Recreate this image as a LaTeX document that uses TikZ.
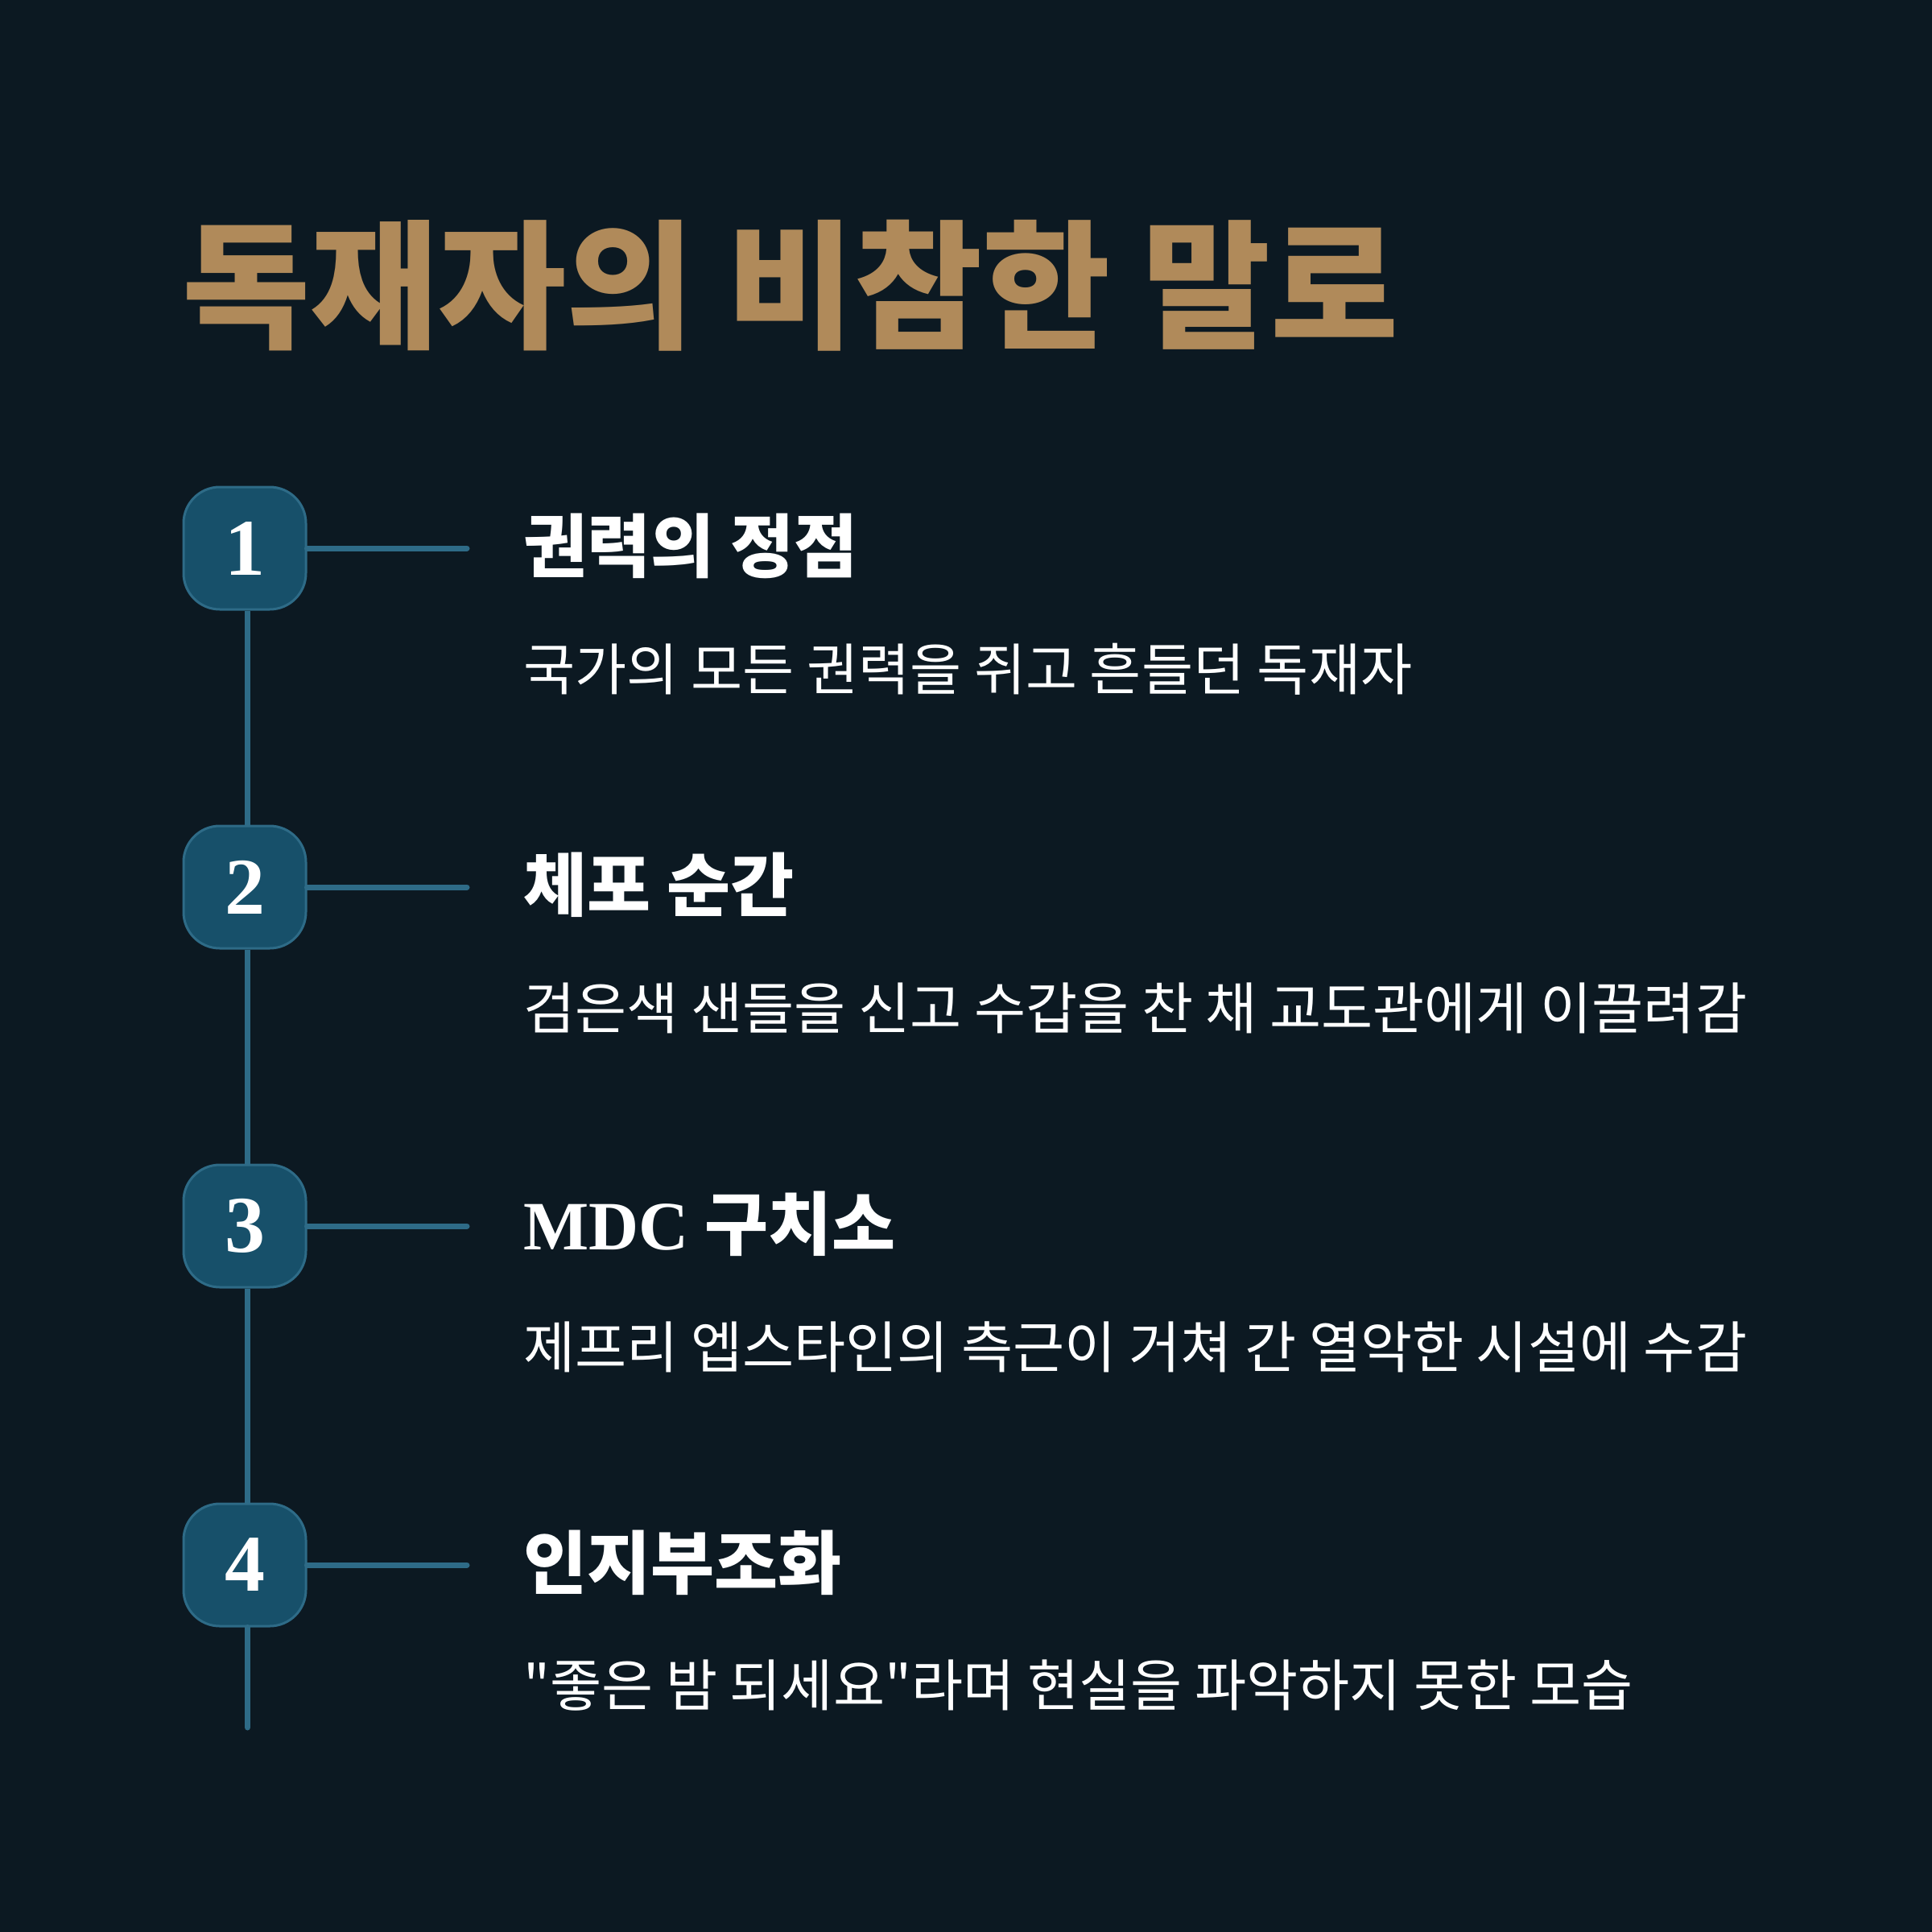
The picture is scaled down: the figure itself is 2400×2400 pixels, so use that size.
\documentclass[tikz,border=0pt]{standalone}
\usepackage{fontspec}
\newfontfamily\kr{Noto Sans CJK KR}
\newfontfamily\numfont{Liberation Serif}
\definecolor{bgc}{HTML}{0C1922}
\definecolor{gold}{HTML}{B08A5A}
\definecolor{boxfill}{HTML}{17506A}
\definecolor{boxline}{HTML}{2E6B87}
\tikzset{
  numbox/.style={draw=boxline, line width=3pt, fill=boxfill, rounded corners=45pt,
    minimum width=152pt, minimum height=152pt, inner sep=0pt, text=white,
    font=\numfont\bfseries\fontsize{100}{100}\selectfont},
  tl/.style={draw=boxline, line width=7pt},
  itemtitle/.style={anchor=west, inner sep=0pt, text=white, font=\kr\bfseries\fontsize{86}{86}\selectfont},
  itemdesc/.style={anchor=west, inner sep=0pt, text=white, font=\kr\fontsize{69.7}{70}\selectfont},
  maintitle/.style={anchor=west, inner sep=0pt, text=gold, font=\kr\bfseries\fontsize{173}{173}\selectfont}
}
\begin{document}
\begin{tikzpicture}[x=1pt,y=-1pt]
\fill[bgc] (0,0) rectangle (2400,2400);
\useasboundingbox (0,0) rectangle (2400,2400);
\node[maintitle] (title) at (226,355) {독재자의 비참한 말로};
% boxes
\node[numbox] (b1) at (304,681) {1};
\node[numbox] (b2) at (304,1102) {2};
\node[numbox] (b3) at (304,1523) {3};
\node[numbox] (b4) at (304,1944) {4};
\coordinate (vend) at (307.5,2146);
\coordinate (h1) at (580,681);
\coordinate (h2) at (580,1102);
\coordinate (h3) at (580,1523);
\coordinate (h4) at (580,1944);
\draw[tl] ([xshift=3.5pt]b1.south) -- ([xshift=3.5pt]b2.north);
\draw[tl] ([xshift=3.5pt]b2.south) -- ([xshift=3.5pt]b3.north);
\draw[tl] ([xshift=3.5pt]b3.south) -- ([xshift=3.5pt]b4.north);
\draw[tl, line cap=round] ([xshift=3.5pt]b4.south) -- (vend);
\draw[tl, line cap=round] (b1.east) -- (h1);
\draw[tl, line cap=round] (b2.east) -- (h2);
\draw[tl, line cap=round] (b3.east) -- (h3);
\draw[tl, line cap=round] (b4.east) -- (h4);
\node[itemtitle] (t1) at (650,678) {권력의 정점};
\node[itemdesc] (d1) at (650,831) {국가의 모든 권력을 쥐고 흔들던 독재자};
\node[itemtitle] (t2) at (650,1099) {체포 순간};
\node[itemdesc] (d2) at (650,1252) {검은색 샌들을 신고 수갑을 찬 채 교도관에게 이끌려감};
\node[itemtitle] (t3) at (650,1520) {{\numfont\bfseries MDC} 구치소};
\node[itemdesc] (d3) at (650,1673) {제프리 엡스타인의 측근이 거쳐 간 열악한 시설에 수감};
\node[itemtitle] (t4) at (650,1941) {인지부조화};
\node[itemdesc] (d4) at (650,2094) {"좋은 밤 되세요"라며 현실을 파악하지 못한 모습};
\end{tikzpicture}
\end{document}
